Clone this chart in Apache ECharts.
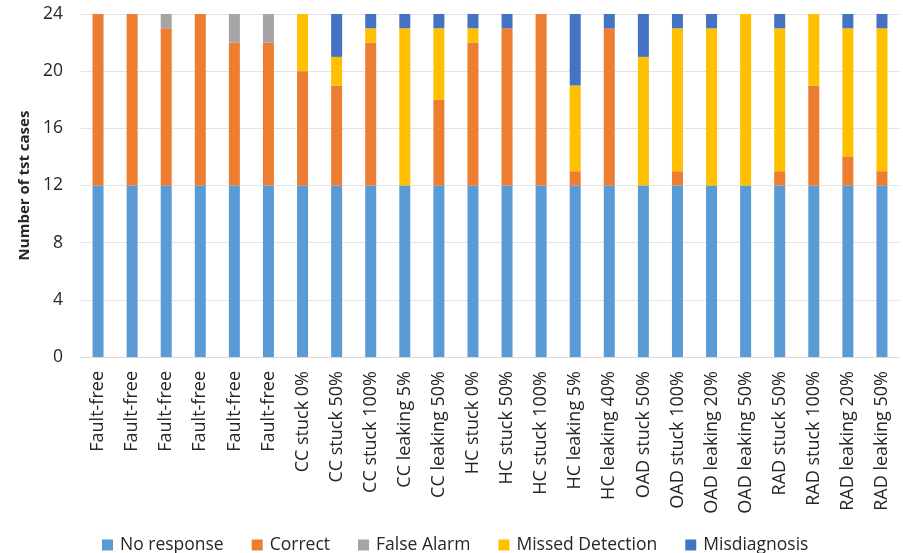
<!DOCTYPE html>
<html><head><meta charset="utf-8">
<script src="https://cdn.jsdelivr.net/npm/echarts@6/dist/echarts.min.js"></script>
<style>html,body{margin:0;padding:0;background:#fff}#c{width:903px;height:553px}</style>
</head><body><div id="c"></div>
<script>
const categories = ["Fault-free","Fault-free","Fault-free","Fault-free","Fault-free","Fault-free",
  "CC stuck 0%","CC stuck 50%","CC stuck 100%","CC leaking 5%","CC leaking 50%",
  "HC stuck 0%","HC stuck 50%","HC stuck 100%","HC leaking 5%","HC leaking 40%",
  "OAD stuck 50%","OAD stuck 100%","OAD leaking 20%","OAD leaking 50%",
  "RAD stuck 50%","RAD stuck 100%","RAD leaking 20%","RAD leaking 50%"];
const noResponse      = [12,12,12,12,12,12,12,12,12,12,12,12,12,12,12,12,12,12,12,12,12,12,12,12];
const correct         = [12,12,11,12,10,10, 8, 7,10, 0, 6,10,11,12, 1,11, 0, 1, 0, 0, 1, 7, 2, 1];
const falseAlarm      = [ 0, 0, 1, 0, 2, 2, 0, 0, 0, 0, 0, 0, 0, 0, 0, 0, 0, 0, 0, 0, 0, 0, 0, 0];
const missedDetection = [ 0, 0, 0, 0, 0, 0, 4, 2, 1,11, 5, 1, 0, 0, 6, 0, 9,10,11,12,10, 5, 9,10];
const misdiagnosis    = [ 0, 0, 0, 0, 0, 0, 0, 3, 1, 1, 1, 1, 1, 0, 5, 1, 3, 1, 1, 0, 1, 0, 1, 1];
const yTicks = [0,4,8,12,16,20,24];

const FONT = "'Open Sans', 'Liberation Sans', sans-serif";
const names = ["No response","Correct","False Alarm","Missed Detection","Misdiagnosis"];
const colors = ["#5B9BD5","#ED7D31","#A5A5A5","#FFC000","#4472C4"];
const datas = [noResponse, correct, falseAlarm, missedDetection, misdiagnosis];

const chart = echarts.init(document.getElementById('c'));
chart.setOption({
  animation: false,
  textStyle: {fontFamily: FONT},
  grid: {left: 81, right: 4, top: 14, bottom: 196},
  legend: {
    top: 531, left: 97, itemWidth: 11, itemHeight: 11, itemGap: 28,
    icon: 'rect',
    textStyle: {fontFamily: FONT, fontSize: 17.5, color: '#262626', padding: [0, 0, 0, 2]},
    data: names
  },
  xAxis: {
    type: 'category', data: categories,
    axisLine: {lineStyle: {color: '#d9d9d9'}},
    axisTick: {show: false},
    axisLabel: {rotate: 90, interval: 0, fontSize: 18, color: '#262626', fontFamily: FONT, margin: 14}
  },
  yAxis: {
    type: 'value', min: yTicks[0], max: yTicks[yTicks.length-1], interval: 4,
    name: 'Number of tst cases', nameLocation: 'middle', nameGap: 43,
    nameTextStyle: {fontSize: 15, fontWeight: 'bold', color: '#262626', fontFamily: FONT},
    axisLabel: {fontSize: 17.5, color: '#262626', margin: 18, fontFamily: FONT},
    splitLine: {lineStyle: {color: '#e3e3e3'}},
    axisLine: {show: false}, axisTick: {show: false}
  },
  series: names.map((n, i) => ({
    name: n, type: 'bar', stack: 'total', data: datas[i], barWidth: 11,
    itemStyle: {color: colors[i]}
  }))
});
</script></body></html>
